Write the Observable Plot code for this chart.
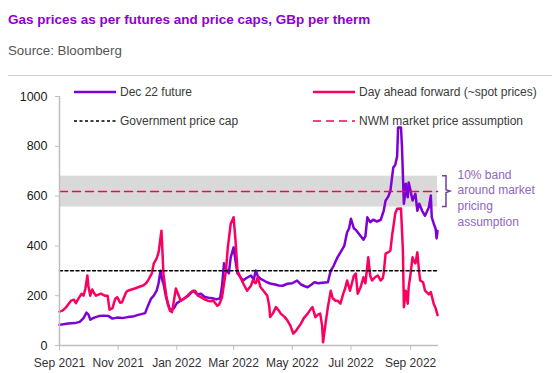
<!DOCTYPE html>
<html><head><meta charset="utf-8">
<script src="https://cdn.jsdelivr.net/npm/d3@7"></script>
<script src="https://cdn.jsdelivr.net/npm/@observablehq/plot@0.6"></script>
<style>
html,body{margin:0;padding:0;background:#fff;}
#wrap{position:relative;width:552px;height:373px;overflow:hidden;font-family:"Liberation Sans",Arial,sans-serif;}
#title{position:absolute;left:8px;top:13px;font-size:13.5px;line-height:13.5px;font-weight:bold;color:#9000d0;white-space:nowrap;}
#source{position:absolute;left:8px;top:44px;font-size:13.3px;line-height:13px;color:#555;white-space:nowrap;}
#rule{position:absolute;left:8px;right:0;top:75px;height:1px;background:#d0d0d0;}
#chart{position:absolute;left:0;top:76px;}
.leg{position:absolute;display:flex;align-items:center;height:14px;font-size:12px;color:#3a3a3a;white-space:nowrap;}
.leg svg{display:block;margin-right:4px;}
</style>
</head><body>
<div id="wrap">
  <div id="title"></div>
  <div id="source"></div>
  <div id="rule"></div>
  <div id="chart"></div>
</div>
<script>
const titleText = "Gas prices as per futures and price caps, GBp per therm";
const sourceText = "Source: Bloomberg";
const seriesNames = ["Dec 22 future", "Day ahead forward (~spot prices)", "Government price cap", "NWM market price assumption"];
const annotationLines = ["10% band", "around market", "pricing", "assumption"];

const futureDates = ["2021-09-01","2021-09-05","2021-09-10","2021-09-17","2021-09-22","2021-09-26","2021-09-29","2021-10-01","2021-10-03","2021-10-07","2021-10-12","2021-10-17","2021-10-22","2021-10-26","2021-10-31","2021-11-05","2021-11-11","2021-11-16","2021-11-21","2021-11-25","2021-11-29","2021-12-02","2021-12-05","2021-12-08","2021-12-11","2021-12-13","2021-12-15","2021-12-17","2021-12-18","2021-12-21","2021-12-25","2021-12-29","2022-01-01","2022-01-05","2022-01-09","2022-01-13","2022-01-18","2022-01-22","2022-01-26","2022-01-30","2022-02-03","2022-02-07","2022-02-11","2022-02-15","2022-02-17","2022-02-19","2022-02-22","2022-02-24","2022-02-26","2022-03-01","2022-03-03","2022-03-05","2022-03-08","2022-03-11","2022-03-14","2022-03-19","2022-03-22","2022-03-24","2022-03-26","2022-03-29","2022-04-01","2022-04-04","2022-04-08","2022-04-13","2022-04-17","2022-04-21","2022-04-26","2022-05-01","2022-05-06","2022-05-10","2022-05-14","2022-05-17","2022-05-21","2022-05-24","2022-05-28","2022-06-01","2022-06-07","2022-06-10","2022-06-13","2022-06-17","2022-06-21","2022-06-24","2022-06-27","2022-06-29","2022-07-01","2022-07-04","2022-07-06","2022-07-09","2022-07-12","2022-07-14","2022-07-16","2022-07-18","2022-07-21","2022-07-24","2022-07-28","2022-08-01","2022-08-04","2022-08-06","2022-08-09","2022-08-11","2022-08-14","2022-08-16","2022-08-18","2022-08-19","2022-08-22","2022-08-23","2022-08-25","2022-08-26","2022-08-27","2022-08-29","2022-08-30","2022-09-01","2022-09-03","2022-09-06","2022-09-08","2022-09-10","2022-09-13","2022-09-16","2022-09-20","2022-09-22","2022-09-23","2022-09-25","2022-09-27","2022-09-28","2022-09-29"];
const futureValues = [83,85,88,90,95,110,132,125,104,112,118,120,118,108,112,110,114,116,122,126,130,160,187,200,220,250,300,260,250,190,140,150,170,180,190,200,220,205,208,195,192,190,185,190,240,330,300,290,354,394,340,290,275,261,270,281,265,301,280,268,262,255,249,245,241,240,248,250,261,245,238,234,245,254,250,252,254,301,320,354,380,400,455,470,509,470,465,450,435,425,438,515,495,505,498,505,541,582,600,622,715,725,760,876,876,800,569,600,650,595,655,620,582,609,541,569,541,521,555,602,515,490,469,430,460];

const spotDates = ["2021-09-01","2021-09-04","2021-09-07","2021-09-10","2021-09-13","2021-09-16","2021-09-18","2021-09-21","2021-09-24","2021-09-26","2021-09-28","2021-09-30","2021-10-01","2021-10-03","2021-10-05","2021-10-07","2021-10-09","2021-10-14","2021-10-18","2021-10-21","2021-10-23","2021-10-26","2021-10-29","2021-10-31","2021-11-03","2021-11-05","2021-11-09","2021-11-11","2021-11-15","2021-11-19","2021-11-23","2021-11-27","2021-11-30","2021-12-02","2021-12-06","2021-12-08","2021-12-11","2021-12-13","2021-12-16","2021-12-17","2021-12-18","2021-12-21","2021-12-23","2021-12-25","2021-12-27","2021-12-31","2022-01-03","2022-01-05","2022-01-09","2022-01-12","2022-01-16","2022-01-20","2022-01-23","2022-01-26","2022-01-30","2022-02-02","2022-02-05","2022-02-08","2022-02-12","2022-02-14","2022-02-17","2022-02-21","2022-02-23","2022-02-26","2022-03-01","2022-03-03","2022-03-05","2022-03-08","2022-03-11","2022-03-15","2022-03-19","2022-03-21","2022-03-24","2022-03-26","2022-03-29","2022-04-01","2022-04-05","2022-04-07","2022-04-08","2022-04-11","2022-04-14","2022-04-17","2022-04-19","2022-04-23","2022-04-26","2022-04-29","2022-05-02","2022-05-05","2022-05-10","2022-05-13","2022-05-17","2022-05-20","2022-05-22","2022-05-25","2022-05-28","2022-05-30","2022-06-01","2022-06-02","2022-06-05","2022-06-07","2022-06-10","2022-06-12","2022-06-15","2022-06-17","2022-06-20","2022-06-23","2022-06-25","2022-06-27","2022-06-30","2022-07-04","2022-07-06","2022-07-08","2022-07-11","2022-07-14","2022-07-16","2022-07-19","2022-07-21","2022-07-23","2022-07-26","2022-07-29","2022-08-01","2022-08-03","2022-08-04","2022-08-06","2022-08-09","2022-08-11","2022-08-13","2022-08-14","2022-08-16","2022-08-18","2022-08-22","2022-08-24","2022-08-25","2022-08-27","2022-08-29","2022-08-30","2022-09-01","2022-09-03","2022-09-04","2022-09-06","2022-09-08","2022-09-10","2022-09-11","2022-09-14","2022-09-16","2022-09-20","2022-09-22","2022-09-25","2022-09-27","2022-09-29"];
const spotValues = [136,140,150,165,180,184,170,190,208,200,230,281,240,200,225,210,200,208,200,200,144,149,188,194,172,174,212,220,225,230,236,241,250,261,290,329,350,374,461,380,289,200,160,140,134,229,200,180,190,200,215,220,200,194,185,180,178,180,160,165,194,300,394,489,515,421,301,274,249,220,240,261,250,274,234,220,200,160,114,130,154,140,128,115,100,80,48,60,88,110,128,145,154,114,125,128,80,13,100,154,220,190,180,180,168,208,230,261,220,280,289,208,234,274,250,354,280,261,274,281,261,270,289,369,375,381,449,474,530,549,550,381,154,220,168,234,289,354,341,330,374,290,261,254,220,205,215,168,150,122];

const priceCap = 300;
const marketAssumption = 618;
const bandLow = 556;
const bandHigh = 680;
const referenceSpan = ["2021-09-01", "2022-09-29"];
const xDomainDates = ["2021-09-01", "2022-09-30"];
const xTickDates = ["2021-09-01","2021-11-01","2022-01-01","2022-03-01","2022-05-01","2022-07-01","2022-09-01"];
const yTicks = [0, 200, 400, 600, 800, 1000];

const colors = {future: "#7e00d6", spot: "#fc0060", cap: "#000000", band: "#d9d9d9", axis: "#bfbfbf", note: "#8d68bd", bracket: "#6e3fa3"};

const parse = d3.utcParse("%Y-%m-%d");
const future = futureDates.map((d, i) => ({date: parse(d), value: futureValues[i]}));
const spot = spotDates.map((d, i) => ({date: parse(d), value: spotValues[i]}));
const span = referenceSpan.map(parse);
const capLine = span.map(d => ({date: d, value: priceCap}));
const nwmLine = span.map(d => ({date: d, value: marketAssumption}));
const xDomain = xDomainDates.map(parse);

document.getElementById("title").textContent = titleText;
document.getElementById("source").textContent = sourceText;

const chart = Plot.plot({
  width: 552, height: 297,
  marginTop: 20, marginBottom: 28, marginLeft: 59, marginRight: 114,
  style: {fontFamily: '"Liberation Sans", Arial, sans-serif', fontSize: "12px", color: "#333", background: "transparent", overflow: "visible"},
  x: {type: "utc", domain: xDomain},
  y: {domain: [0, 1000]},
  marks: [
    Plot.rect([{x1: span[0], x2: span[1], y1: bandLow, y2: bandHigh}], {x1: "x1", x2: "x2", y1: "y1", y2: "y2", fill: colors.band}),
    Plot.line(future, {x: "date", y: "value", stroke: colors.future, strokeWidth: 2.5, strokeLinejoin: "round"}),
    Plot.line(spot, {x: "date", y: "value", stroke: colors.spot, strokeWidth: 2.5, strokeLinejoin: "round"}),
    Plot.line(capLine, {x: "date", y: "value", stroke: colors.cap, strokeWidth: 1.5, strokeDasharray: "3,2.5"}),
    Plot.line(nwmLine, {x: "date", y: "value", stroke: colors.spot, strokeWidth: 1.5, strokeDasharray: "8,5"}),
    Plot.ruleX([xDomain[0]], {stroke: colors.axis, strokeWidth: 1.5}),
    Plot.ruleY([0], {stroke: colors.axis, strokeWidth: 1.5}),
    Plot.axisY({ticks: yTicks, tickSize: 4, tickPadding: 8, stroke: colors.axis, fill: "#1a1a1a", fontSize: "12.5px", label: null, tickFormat: d => String(d)}),
    Plot.axisX({ticks: xTickDates.map(parse), tickSize: 5, tickPadding: 8, stroke: colors.axis, fill: "#333", label: null, tickFormat: d3.utcFormat("%b %Y")}),
    Plot.text([{date: xDomain[1], value: marketAssumption, text: annotationLines.join("\n")}],
      {x: "date", y: "value", text: "text", dx: 19, dy: 5.5, textAnchor: "start", lineAnchor: "middle", lineHeight: 1.3, fontSize: 12, fill: colors.note})
  ]
});

// bracket next to the band, positioned via the plot's scales
const xs = chart.scale("x"), ys = chart.scale("y");
const bx = xs.apply(xDomain[1]) + 8;
const yT = ys.apply(bandHigh), yB = ys.apply(bandLow), yM = ys.apply(marketAssumption);
d3.select(chart).append("path")
  .attr("d", `M${bx - 4},${yT}H${bx}V${yM - 1.5}L${bx + 4},${yM}L${bx},${yM + 1.5}V${yB}H${bx - 4}`)
  .attr("fill", "none").attr("stroke", colors.bracket).attr("stroke-width", 1.5);

document.getElementById("chart").appendChild(chart);

// legend overlay
const wrap = document.getElementById("wrap");
const legendItems = [
  {name: seriesNames[0], stroke: colors.future, dash: null, width: 2.5, left: 74, cy: 91.5},
  {name: seriesNames[1], stroke: colors.spot, dash: null, width: 2.5, left: 313, cy: 91.5},
  {name: seriesNames[2], stroke: colors.cap, dash: "3,2.5", width: 1.5, left: 74, cy: 120.5},
  {name: seriesNames[3], stroke: colors.spot, dash: "8,5", width: 1.5, left: 313, cy: 120.5}
];
legendItems.forEach(it => {
  const div = document.createElement("div");
  div.className = "leg";
  div.style.left = it.left + "px";
  div.style.top = (it.cy - 7) + "px";
  div.innerHTML = `<svg width="42" height="14"><line x1="0" x2="42" y1="7" y2="7" stroke="${it.stroke}" stroke-width="${it.width}" ${it.dash ? `stroke-dasharray="${it.dash}"` : ""}/></svg><span></span>`;
  div.querySelector("span").textContent = it.name;
  wrap.appendChild(div);
});
</script>
</body></html>
